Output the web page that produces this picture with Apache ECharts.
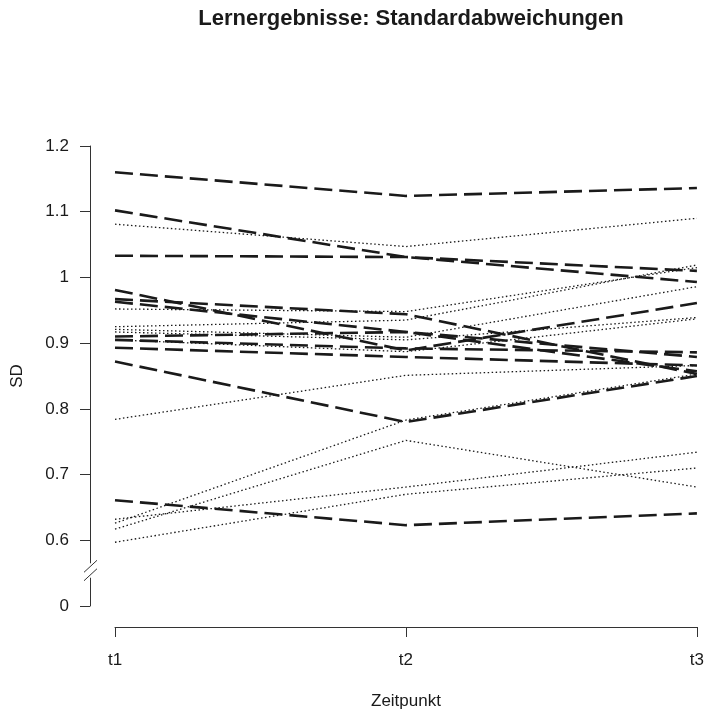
<!DOCTYPE html>
<html>
<head>
<meta charset="utf-8">
<script src="https://cdn.jsdelivr.net/npm/echarts@6/dist/echarts.min.js"></script>
<style>html,body{margin:0;padding:0;background:#fff}#c{width:707px;height:715px}</style>
</head>
<body>
<div id="c"></div>
<script>
// categories
const timepoints = ['t1', 't2', 't3'];
// y tick labels (the lowest tick stands for 0, below the axis break)
const yTickLabels = ['0', '0.6', '0.7', '0.8', '0.9', '1', '1.1', '1.2'];

// dashed series (SD at t1, t2, t3)
const dashedA = [1.160, 1.124, 1.136];
const dashedB = [1.102, 1.031, 0.993];
const dashedC = [1.033, 1.031, 1.010];
const dashedD = [0.981, 0.889, 0.961];
const dashedE = [0.967, 0.944, 0.853];
const dashedF = [0.963, 0.917, 0.857];
const dashedG = [0.910, 0.917, 0.879];
const dashedH = [0.905, 0.892, 0.886];
const dashedI = [0.893, 0.879, 0.866];
const dashedJ = [0.872, 0.780, 0.850];
const dashedK = [0.661, 0.623, 0.641];

// dotted series
const dottedA = [1.081, 1.047, 1.090];
const dottedB = [0.952, 0.948, 1.015];
const dottedC = [0.925, 0.935, 1.019];
const dottedD = [0.921, 0.909, 0.986];
const dottedE = [0.917, 0.905, 0.939];
const dottedF = [0.905, 0.887, 0.937];
const dottedG = [0.784, 0.851, 0.866];
const dottedH = [0.632, 0.681, 0.734];
const dottedI = [0.626, 0.783, 0.853];
const dottedJ = [0.617, 0.752, 0.681];
const dottedK = [0.597, 0.670, 0.710];

const dashedSeries = [dashedA, dashedB, dashedC, dashedD, dashedE, dashedF, dashedG, dashedH, dashedI, dashedJ, dashedK];
const dottedSeries = [dottedA, dottedB, dottedC, dottedD, dottedE, dottedF, dottedG, dottedH, dottedI, dottedJ, dottedK];

const FONT = '"Liberation Sans", Arial, sans-serif';
const series = [];
dottedSeries.forEach((d) => series.push({
  type: 'line', data: d, symbol: 'none', silent: true, z: 2,
  lineStyle: { color: '#1a1a1a', width: 1.3, type: [1.5, 2.5], cap: 'butt' }
}));
dashedSeries.forEach((d) => series.push({
  type: 'line', data: d, symbol: 'none', silent: true, z: 3,
  lineStyle: { color: '#1a1a1a', width: 2.6, type: [18, 7], cap: 'butt' }
}));

const chart = echarts.init(document.getElementById('c'), null, { renderer: 'canvas' });
chart.setOption({
  animation: false,
  backgroundColor: '#fff',
  title: {
    text: 'Lernergebnisse: Standardabweichungen',
    left: 406, top: 3, textAlign: 'center',
    textStyle: { fontFamily: FONT, fontWeight: 'bold', fontSize: 22, color: '#1a1a1a' }
  },
  grid: { left: 115, right: 9, top: 146, bottom: 109, containLabel: false },
  xAxis: {
    type: 'category', data: timepoints, boundaryGap: false, offset: 21,
    name: 'Zeitpunkt', nameLocation: 'middle', nameGap: 66,
    nameTextStyle: { fontFamily: FONT, fontSize: 17, color: '#1a1a1a' },
    axisLine: { lineStyle: { color: '#333', width: 1 } },
    axisTick: { length: 10, lineStyle: { color: '#333' } },
    axisLabel: { margin: 25, fontFamily: FONT, fontSize: 17, color: '#1a1a1a' },
    splitLine: { show: false }
  },
  yAxis: {
    type: 'value', min: 0.5, max: 1.2, interval: 0.1, offset: 25,
    name: 'SD', nameLocation: 'middle', nameGap: 64, nameRotate: 90,
    nameTextStyle: { fontFamily: FONT, fontSize: 17, color: '#1a1a1a' },
    axisLine: { show: true, lineStyle: { color: '#333', width: 1 } },
    axisTick: { show: true, length: 10, lineStyle: { color: '#333' } },
    axisLabel: {
      margin: 21, fontFamily: FONT, fontSize: 17, color: '#1a1a1a',
      formatter: v => yTickLabels[Math.round((v - 0.5) * 10)]
    },
    splitLine: { show: false }
  },
  series: series
});

// axis break marks on the y axis
const axisX = 90;
const pTop = chart.convertToPixel({ yAxisIndex: 0 }, 0.565);
const pBot = chart.convertToPixel({ yAxisIndex: 0 }, 0.543);
const mid1 = pTop + 3, mid2 = pBot - 3;
chart.setOption({
  graphic: [
    { type: 'rect', shape: { x: axisX - 3, y: pTop, width: 6, height: pBot - pTop }, style: { fill: '#fff' }, z: 10 },
    { type: 'line', shape: { x1: axisX - 6, y1: mid1 + 6, x2: axisX + 7, y2: mid1 - 6 }, style: { stroke: '#333', lineWidth: 1 }, z: 11 },
    { type: 'line', shape: { x1: axisX - 6, y1: mid2 + 6, x2: axisX + 7, y2: mid2 - 6 }, style: { stroke: '#333', lineWidth: 1 }, z: 11 }
  ]
});
</script>
</body>
</html>
